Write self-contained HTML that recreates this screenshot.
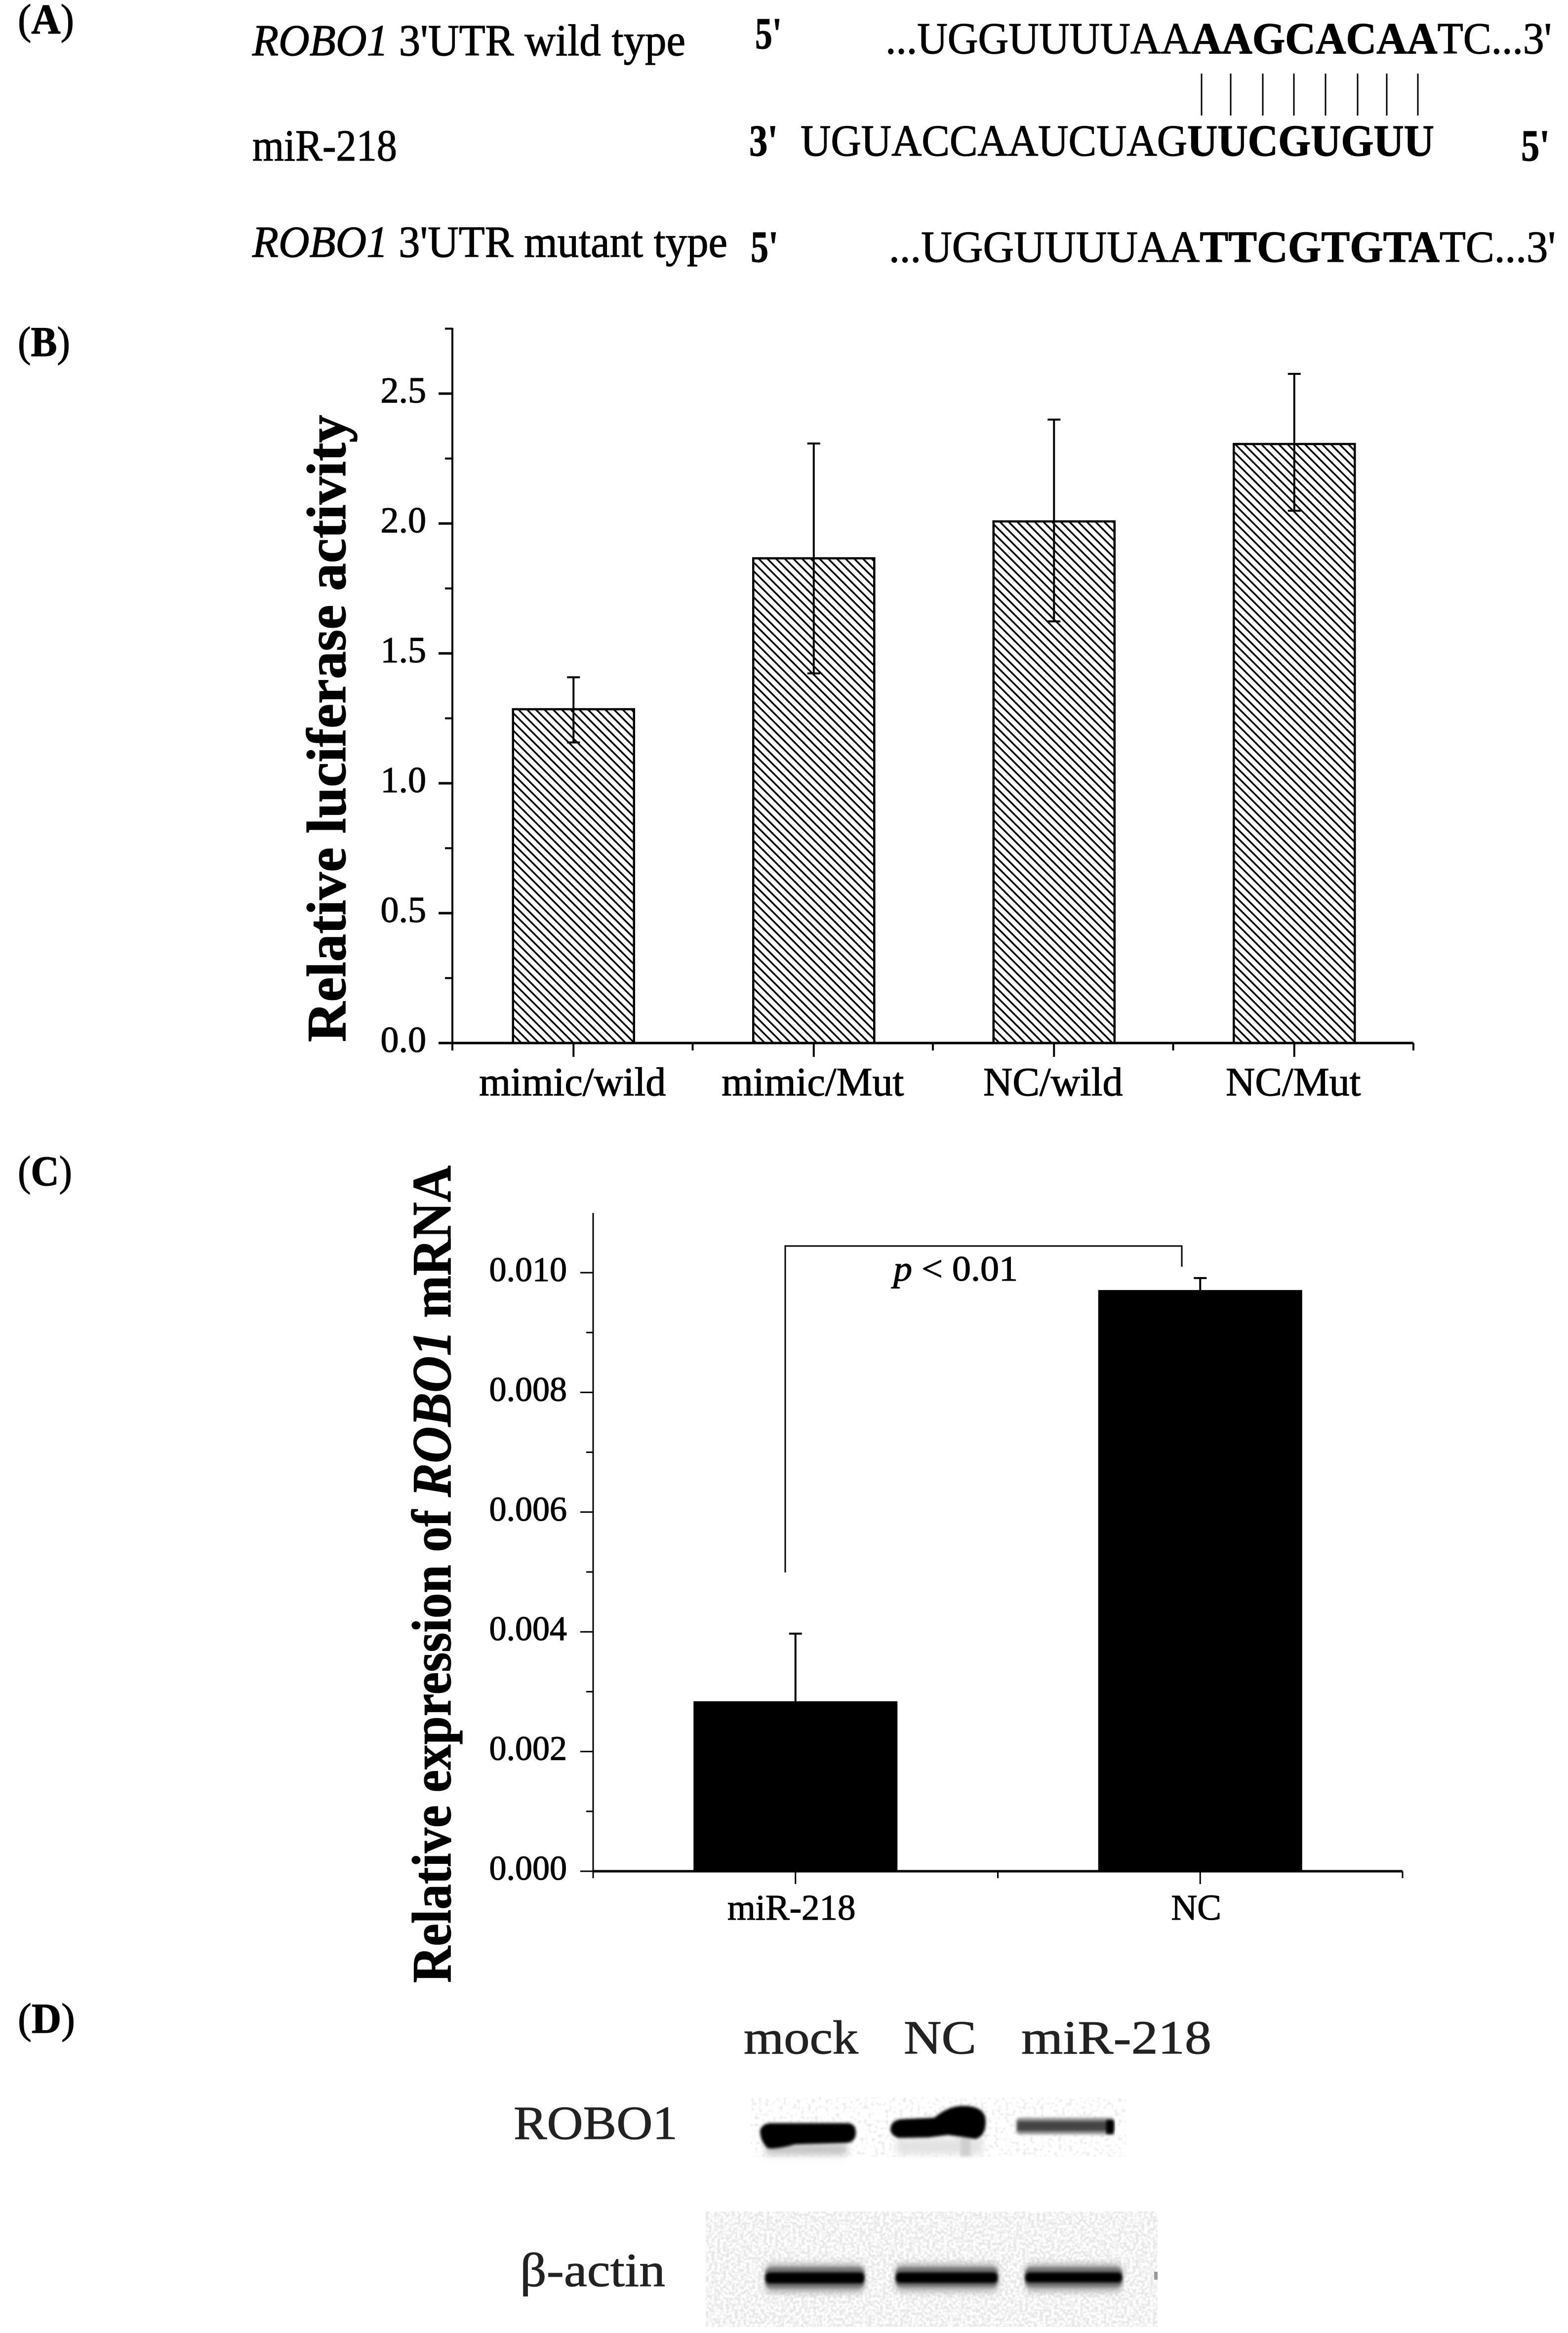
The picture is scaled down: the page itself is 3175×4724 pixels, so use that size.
<!DOCTYPE html>
<html>
<head>
<meta charset="utf-8">
<style>
html,body{margin:0;padding:0;background:#fff;}
svg{display:block;}
text{font-family:"Liberation Serif","Noto Serif CJK SC",serif;fill:#000;stroke:#000;stroke-width:1.2px;}
text.soft{fill:#222;stroke:#222;stroke-width:1px;}
</style>
</head>
<body>
<svg id="fig" xmlns="http://www.w3.org/2000/svg" width="3175" height="4724" viewBox="0 0 3175 4724">
<defs>
<pattern id="hatch" patternUnits="userSpaceOnUse" width="17.6" height="17.6">
<path d="M-4.4,-4.4L22,22M-4.4,13.2L4.4,22M13.2,-4.4L22,4.4" stroke="#000" stroke-width="3.5" fill="none"/>
</pattern>
<filter id="b3" x="-20%" y="-60%" width="140%" height="220%"><feGaussianBlur stdDeviation="3"/></filter>
<filter id="b8" x="-20%" y="-80%" width="140%" height="260%"><feGaussianBlur stdDeviation="7"/></filter>
<filter id="speckle" x="0" y="0" width="100%" height="100%" color-interpolation-filters="sRGB">
<feTurbulence type="fractalNoise" baseFrequency="0.17" numOctaves="1" seed="4"/>
<feColorMatrix type="matrix" values="0 0 0 0 .91  0 0 0 0 .91  0 0 0 0 .92  0 0 0 4 -1.5"/>
</filter>
<filter id="speckle2" x="0" y="0" width="100%" height="100%" color-interpolation-filters="sRGB">
<feTurbulence type="fractalNoise" baseFrequency="0.14" numOctaves="1" seed="9"/>
<feColorMatrix type="matrix" values="0 0 0 0 .92  0 0 0 0 .92  0 0 0 0 .93  0 0 0 4 -2"/>
</filter>
</defs>
<rect width="3175" height="4724" fill="#fff"/>

<g>
<text x="36" y="68" font-size="86" textLength="114" lengthAdjust="spacingAndGlyphs">(<tspan font-weight="bold">A</tspan>)</text>
<text x="511" y="112" font-size="90" textLength="877" lengthAdjust="spacingAndGlyphs"><tspan font-style="italic">ROBO1</tspan> 3'UTR wild type</text>
<text x="1529" y="98" font-size="90" font-weight="bold" textLength="54" lengthAdjust="spacingAndGlyphs">5'</text>
<text x="1793" y="108" font-size="90" textLength="1349" lengthAdjust="spacingAndGlyphs">...UGGUUUUAA<tspan font-weight="bold">AAGCACAA</tspan>TC...3'</text>
<g stroke="#000" stroke-width="3">
<line x1="2433" y1="149" x2="2433" y2="234"/><line x1="2492" y1="149" x2="2492" y2="234"/><line x1="2557" y1="149" x2="2557" y2="234"/><line x1="2620" y1="149" x2="2620" y2="234"/><line x1="2684" y1="149" x2="2684" y2="234"/><line x1="2749" y1="149" x2="2749" y2="234"/><line x1="2808" y1="149" x2="2808" y2="234"/><line x1="2871" y1="149" x2="2871" y2="234"/>
</g>
<text x="511" y="325" font-size="90" textLength="293" lengthAdjust="spacingAndGlyphs">miR-218</text>
<text x="1517" y="315" font-size="90" font-weight="bold" textLength="58" lengthAdjust="spacingAndGlyphs">3'</text>
<text x="1621" y="315" font-size="90" textLength="1283" lengthAdjust="spacingAndGlyphs">UGUACCAAUCUAG<tspan font-weight="bold">UUCGUGUU</tspan></text>
<text x="3080" y="325" font-size="90" font-weight="bold" textLength="58" lengthAdjust="spacingAndGlyphs">5'</text>
<text x="511" y="520" font-size="90" textLength="962" lengthAdjust="spacingAndGlyphs"><tspan font-style="italic">ROBO1</tspan> 3'UTR mutant type</text>
<text x="1520" y="530" font-size="90" font-weight="bold" textLength="56" lengthAdjust="spacingAndGlyphs">5'</text>
<text x="1800" y="530" font-size="90" textLength="1350" lengthAdjust="spacingAndGlyphs">...UGGUUUUAA<tspan font-weight="bold">TTCGTGTA</tspan>TC...3'</text>
</g>

<text x="36" y="721" font-size="86" textLength="106" lengthAdjust="spacingAndGlyphs">(<tspan font-weight="bold">B</tspan>)</text>
<g id="chartB"></g>
<text transform="translate(699,2110) rotate(-90)" font-size="112" font-weight="bold" textLength="1270" lengthAdjust="spacingAndGlyphs">Relative luciferase activity</text>

<text x="36" y="2400" font-size="86" textLength="110" lengthAdjust="spacingAndGlyphs">(<tspan font-weight="bold">C</tspan>)</text>
<g id="chartC"></g>
<text transform="translate(912,4015) rotate(-90)" font-size="112" font-weight="bold" textLength="1655" lengthAdjust="spacingAndGlyphs">Relative expression of <tspan font-style="italic">ROBO1</tspan> mRNA</text>

<g>
<path d="M1590,3184V2523H2393V2565" fill="none" stroke="#000" stroke-width="3"/>
<text x="1809" y="2593" font-size="72" textLength="252" lengthAdjust="spacingAndGlyphs"><tspan font-style="italic">p</tspan> &lt; 0.01</text>
</g>

<g>
<text x="36" y="4116" font-size="86" textLength="116" lengthAdjust="spacingAndGlyphs">(<tspan font-weight="bold">D</tspan>)</text>
<text class="soft" x="1506" y="4158" font-size="96" textLength="232" lengthAdjust="spacingAndGlyphs">mock</text>
<text class="soft" x="1830" y="4158" font-size="96" textLength="147" lengthAdjust="spacingAndGlyphs">NC</text>
<text class="soft" x="2068" y="4158" font-size="96" textLength="385" lengthAdjust="spacingAndGlyphs">miR-218</text>
<text class="soft" x="1040" y="4331" font-size="96" textLength="332" lengthAdjust="spacingAndGlyphs">ROBO1</text>
<text class="soft" x="1053" y="4629" font-size="96" textLength="294" lengthAdjust="spacingAndGlyphs">β-actin</text>

<g>
<rect x="1520" y="4247" width="760" height="120" fill="#000" filter="url(#speckle2)"/>
<rect x="1550" y="4340" width="165" height="24" fill="#c4c4c4" filter="url(#b8)"/>
<rect x="1815" y="4330" width="175" height="32" fill="#e2e2e2" filter="url(#b8)"/>
<rect x="1945" y="4330" width="20" height="36" fill="#cfcfcf" filter="url(#b3)"/>
<path d="M1539,4314Q1543,4300 1560,4299H1718Q1733,4301 1733,4318Q1733,4336 1716,4339L1610,4342Q1575,4352 1555,4350Q1539,4336 1539,4314Z" fill="#000" filter="url(#b3)"/>
<path d="M1803,4310Q1805,4293 1825,4291L1892,4288Q1920,4264 1950,4264Q1995,4264 1996,4295Q1996,4326 1975,4331L1920,4323L1880,4328L1820,4329Q1803,4324 1803,4310Z" fill="#000" filter="url(#b3)"/>
<rect x="2058" y="4288" width="197" height="34" rx="6" fill="#9a9a9a" filter="url(#b3)"/>
<rect x="2060" y="4295" width="195" height="20" rx="4" fill="#444" filter="url(#b3)"/>
<rect x="2240" y="4293" width="15" height="28" fill="#000" filter="url(#b3)"/>
</g>

<g>
<rect x="1429" y="4478" width="915" height="234" fill="#000" filter="url(#speckle)"/>
<g filter="url(#b8)" fill="#aaa">
<rect x="1552" y="4584" width="196" height="58" rx="8"/>
<rect x="1815" y="4584" width="205" height="56" rx="8"/>
<rect x="2078" y="4584" width="192" height="56" rx="8"/>
</g>
<g filter="url(#b3)" fill="#777">
<rect x="1550" y="4591" width="200" height="42" rx="10"/>
<rect x="1814" y="4591" width="206" height="40" rx="10"/>
<rect x="2076" y="4591" width="196" height="40" rx="10"/>
</g>
<g filter="url(#b3)" fill="#000">
<rect x="1550" y="4601" width="200" height="23" rx="9"/>
<rect x="1814" y="4601" width="206" height="22" rx="9"/>
<rect x="2076" y="4601" width="196" height="21" rx="9"/>
</g>
<rect x="2337" y="4600" width="7" height="16" fill="#999"/>
</g>
</g>
</svg>

<script>
// Panel B data
const luciCategories = ["mimic/wild", "mimic/Mut", "NC/wild", "NC/Mut"];
const luciValues = [1.285, 1.866, 2.008, 2.306];
const luciErrUpper = [1.408, 2.308, 2.40, 2.576];
const luciErrLower = [1.157, 1.423, 1.623, 2.049];
const luciTickLabels = ["0.0", "0.5", "1.0", "1.5", "2.0", "2.5"];
const luciTickValues = [0, 0.5, 1, 1.5, 2, 2.5];
const luciMinorTicks = [0.25, 0.75, 1.25, 1.75, 2.25, 2.75];
// Panel C data
const exprCategories = ["miR-218", "NC"];
const exprValues = [0.00284, 0.00971];
const exprErrUpper = [0.00397, 0.00991];
const exprTickLabels = ["0.000", "0.002", "0.004", "0.006", "0.008", "0.010"];
const exprTickValues = [0, 0.002, 0.004, 0.006, 0.008, 0.010];
const exprMinorTicks = [0.001, 0.003, 0.005, 0.007, 0.009];

const NS = "http://www.w3.org/2000/svg";
function mk(parent, tag, attrs, txt) {
  const el = document.createElementNS(NS, tag);
  for (const k in attrs) el.setAttribute(k, attrs[k]);
  if (txt !== undefined) el.textContent = txt;
  parent.appendChild(el);
  return el;
}

// ---- Panel B ----
(function () {
  const g = document.getElementById("chartB");
  const x0 = 916, x1 = 2862, yBase = 2112, yTop = 664, unit = 526;
  const y = v => yBase - v * unit;
  const band = (x1 - x0) / luciCategories.length;
  const cx = i => x0 + band * (i + 0.5) + 2;
  const barW = band * 0.5036;

  luciCategories.forEach((c, i) => {
    const bar = mk(g, "rect", { x: cx(i) - barW / 2, y: y(luciValues[i]), width: barW, height: yBase - y(luciValues[i]), fill: "url(#hatch)", stroke: "#000", "stroke-width": 4.5 });
    
    
    const err = mk(g, "path", { d: `M${cx(i) - 13},${y(luciErrUpper[i])}H${cx(i) + 13}M${cx(i)},${y(luciErrUpper[i])}V${y(luciErrLower[i])}M${cx(i) - 13},${y(luciErrLower[i])}H${cx(i) + 13}`, stroke: "#000", "stroke-width": 4, fill: "none" });
    
    
    const lab = mk(g, "text", { x: cx(i) - 2, y: 2218, "font-size": 82, "text-anchor": "middle" }, c);
    
    
    const tick = mk(g, "line", { x1: cx(i), x2: cx(i), y1: yBase, y2: yBase + 28, stroke: "#000", "stroke-width": 4 });
    
    
  });
  for (let i = 0; i <= luciCategories.length; i++) {
    const t = mk(g, "line", { x1: x0 + band * i, x2: x0 + band * i, y1: yBase, y2: yBase + 15, stroke: "#000", "stroke-width": 4 });
    
    
  }
  luciTickValues.forEach((v, i) => {
    const t = mk(g, "line", { x1: x0 - 28, x2: x0, y1: y(v), y2: y(v), stroke: "#000", "stroke-width": 5 });
    
    
    const lab = mk(g, "text", { x: 863, y: y(v) + 18, "font-size": 74, "text-anchor": "end" }, luciTickLabels[i]);
    
    
  });
  luciMinorTicks.forEach(v => {
    const t = mk(g, "line", { x1: x0 - 15, x2: x0, y1: y(v), y2: y(v), stroke: "#000", "stroke-width": 4 });
    
    
  });
  const ax = mk(g, "line", { x1: x0, x2: x0, y1: yTop, y2: yBase, stroke: "#000", "stroke-width": 4 });
  
  
  const ax2 = mk(g, "line", { x1: x0, x2: x1, y1: yBase, y2: yBase, stroke: "#000", "stroke-width": 5 });
  
  
})();

// ---- Panel C ----
(function () {
  const g = document.getElementById("chartC");
  const x0 = 1201, x1 = 2840, yBase = 3789, yTop = 2456, unit = 121200;
  const y = v => yBase - v * unit;
  const band = (x1 - x0) / exprCategories.length;
  const cx = i => x0 + band * (i + 0.5);
  const barW = band * 0.504;

  exprCategories.forEach((c, i) => {
    const err = mk(g, "path", { d: `M${cx(i) - 13},${y(exprErrUpper[i])}H${cx(i) + 13}M${cx(i)},${y(exprErrUpper[i])}V${y(exprValues[i])}`, stroke: "#000", "stroke-width": 4, fill: "none" });
    
    
    const bar = mk(g, "rect", { x: cx(i) - barW / 2, y: y(exprValues[i]), width: barW, height: yBase - y(exprValues[i]), fill: "#000" });
    
    
    const lab = mk(g, "text", { x: cx(i) - 8, y: 3887, "font-size": 73, "text-anchor": "middle" }, c);
    
    
    const tick = mk(g, "line", { x1: cx(i), x2: cx(i), y1: yBase, y2: yBase + 26, stroke: "#000", "stroke-width": 3 });
    
    
  });
  for (let i = 0; i <= exprCategories.length; i++) {
    const t = mk(g, "line", { x1: x0 + band * i, x2: x0 + band * i, y1: yBase, y2: yBase + 14, stroke: "#000", "stroke-width": 3 });
    
    
  }
  exprTickValues.forEach((v, i) => {
    const t = mk(g, "line", { x1: x0 - 26, x2: x0, y1: y(v), y2: y(v), stroke: "#000", "stroke-width": 3 });
    
    
    const lab = mk(g, "text", { x: 1148, y: y(v) + 17, "font-size": 70, "text-anchor": "end" }, exprTickLabels[i]);
    
    
  });
  exprMinorTicks.forEach(v => {
    const t = mk(g, "line", { x1: x0 - 14, x2: x0, y1: y(v), y2: y(v), stroke: "#000", "stroke-width": 3 });
    
    
  });
  const ax = mk(g, "line", { x1: x0, x2: x0, y1: yTop, y2: yBase, stroke: "#000", "stroke-width": 3 });
  
  
  const ax2 = mk(g, "line", { x1: x0, x2: x1, y1: yBase, y2: yBase, stroke: "#000", "stroke-width": 5 });
  
  
})();
</script>
</body>
</html>
